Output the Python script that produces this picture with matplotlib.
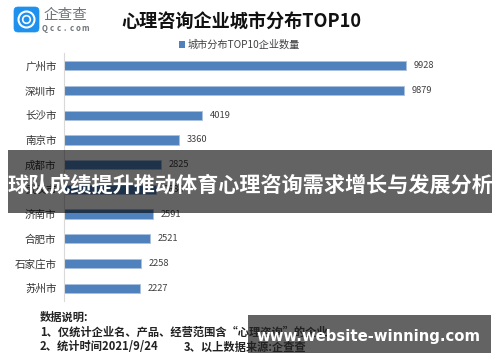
import matplotlib
matplotlib.use("Agg")
import matplotlib.pyplot as plt
from matplotlib.patches import Circle, FancyBboxPatch, Rectangle

plt.rcParams["font.family"] = ["Noto Sans CJK SC", "DejaVu Sans"]

# Данные графика
cities = ["广州市", "深圳市", "长沙市", "南京市", "成都市", "武汉市", "济南市", "合肥市", "石家庄市", "苏州市"]
counts = [9928, 9879, 4019, 3360, 2825, 2684, 2591, 2521, 2258, 2227]

chart_title = "心理咨询企业城市分布TOP10"
legend_label = "城市分布TOP10企业数量"
note_lines = [
    "数据说明:",
    "1、仅统计企业名、产品、经营范围含“心理咨询”的企业",
    "2、统计时间2021/9/24",
]
note_source = "3、以上数据来源:企查查"
band_text = "球队成绩提升推动体育心理咨询需求增长与发展分析"
site_text = "www.website-winning.com"
logo_name = "企查查"
logo_site = "Qcc.com"

BAR_COLOR = "#4f81bd"
W, H = 500, 362

fig = plt.figure(figsize=(W / 100, H / 100), dpi=100, facecolor="white")

# Область столбцов в пикселях картинки
left, right, top, bottom = 63.5, 470, 53.5, 300.5
ax = fig.add_axes([left / W, 1 - bottom / H, (right - left) / W, (bottom - top) / H])
ax.barh(cities, counts, height=0.37, color=BAR_COLOR, edgecolor="#a9c1de", linewidth=0.6)
ax.set_xlim(0, (right - left) / 0.03445)
ax.set_ylim(len(cities) - 0.5, -0.5)
ax.xaxis.set_visible(False)
for side in ("top", "right", "bottom"):
    ax.spines[side].set_visible(False)
ax.spines["left"].set_color("#d9d9d9")
ax.spines["left"].set_linewidth(0.8)
ax.tick_params(axis="y", length=0, pad=5, labelsize=7.6, labelcolor="#333333")
for i, value in enumerate(counts):
    ax.annotate(str(value), (value, i), xytext=(5.5, 0), textcoords="offset points",
                va="center", fontsize=6.7, color="#404040")

# Полный холст в пиксельных координатах для остальных элементов
bg = fig.add_axes([0, 0, 1, 1], zorder=5)
bg.set_xlim(0, W)
bg.set_ylim(H, 0)
bg.axis("off")
bg.patch.set_alpha(0)

bg.text(241, 22, chart_title, fontsize=13.1, fontweight="bold", color="#111111", ha="center", va="center")
bg.add_patch(Rectangle((179, 41), 5.5, 6.5, color=BAR_COLOR, lw=0))
bg.text(188, 44.5, legend_label, fontsize=7.3, color="#404040", va="center")

# Логотип
bg.add_patch(FancyBboxPatch((14, 7), 25, 25, boxstyle="round,pad=0,rounding_size=4",
                            fc="#1e90ee", ec="#1e90ee", lw=0.5))
bg.add_patch(Circle((26.5, 19.5), 8, fc="none", ec="white", lw=1.5))
bg.add_patch(Circle((26.5, 19.5), 3.8, fc="none", ec="white", lw=1.2))
bg.text(65, 15, logo_name, fontsize=10.5, color="#6e7378", ha="center", va="center")
for i, ch in enumerate(logo_site):
    bg.text(45 + i * 6.7, 28.5, ch, fontsize=5.6, color="#6e7378", ha="center", va="center", fontweight="bold")

# Примечания внизу
for line, y in zip(note_lines, (317, 332.5, 347)):
    bg.text(40, y, line, fontsize=8.1, fontweight="bold", color="#222222", va="center")
bg.text(184, 347, note_source, fontsize=8.1, fontweight="bold", color="#222222", va="center")

# Полупрозрачные плашки поверх графика
bg.add_patch(Rectangle((8, 150), 484, 63, color="black", alpha=0.61, lw=0))
bg.text(250, 185, band_text, fontsize=15.2, fontweight="bold", color="white", ha="center", va="center")
bg.add_patch(Rectangle((248, 315), 243, 38, color="black", alpha=0.61, lw=0))
bg.text(368.5, 336, site_text, fontsize=10.7, fontweight="bold", color="white", ha="center", va="center",
        family="DejaVu Sans")

fig.savefig("out.png", dpi=100)
